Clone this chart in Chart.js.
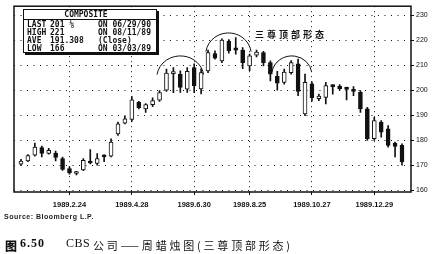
<!DOCTYPE html>
<html>
<head>
<meta charset="utf-8">
<script src="https://cdn.jsdelivr.net/npm/chart.js@4.4.0/dist/chart.umd.min.js"></script>
<style>
  html, body { margin: 0; padding: 0; background: #fff; }
  #wrap { position: relative; width: 439px; height: 254px; overflow: hidden; }
  #wrap canvas { position: absolute; left: 0; top: 0; }
  .txt { position: absolute; white-space: nowrap; color: #111; line-height: 1; }
  .source { left: 4px; top: 213px; font: bold 7px "Liberation Sans", Arial, sans-serif; letter-spacing: 0.5px; color: #222; }
  .cap { top: 237px; }
  .cap-fig { left: 5px; font: 900 12px "Noto Sans CJK SC", sans-serif; }
  .cap-num { left: 20px; font: bold 12px "Liberation Serif", serif; letter-spacing: 1px; top: 236px; }
  .cap-co { left: 66px; font: 12px "Liberation Serif", serif; letter-spacing: 0.5px; top: 236px; }
  .cap-rest { left: 93px; font: 11px "Noto Sans CJK SC", sans-serif; letter-spacing: 2.8px; }
</style>
</head>
<body>
<div id="wrap">
  <canvas id="candles" width="439" height="254"></canvas>
  <div class="txt source">Source: Bloomberg L.P.</div>
  <div class="txt cap cap-fig">图</div>
  <div class="txt cap-num txt">6.50</div>
  <div class="txt cap-co txt">CBS</div>
  <div class="txt cap cap-rest">公司——周蜡烛图(三尊顶部形态)</div>
</div>
<script>
// weekly candles, CBS 1989 - Jan 1990
const dates = [
    '1989.1.6', '1989.1.13', '1989.1.20', '1989.1.27', '1989.2.3', '1989.2.10', '1989.2.17', '1989.2.24',
    '1989.3.3', '1989.3.10', '1989.3.17', '1989.3.24', '1989.3.31', '1989.4.7', '1989.4.14', '1989.4.21',
    '1989.4.28', '1989.5.5', '1989.5.12', '1989.5.19', '1989.5.26', '1989.6.2', '1989.6.9', '1989.6.16',
    '1989.6.23', '1989.6.30', '1989.7.7', '1989.7.14', '1989.7.21', '1989.7.28', '1989.8.4', '1989.8.11',
    '1989.8.18', '1989.8.25', '1989.9.1', '1989.9.8', '1989.9.15', '1989.9.22', '1989.9.29', '1989.10.6',
    '1989.10.13', '1989.10.20', '1989.10.27', '1989.11.3', '1989.11.10', '1989.11.17', '1989.11.24', '1989.12.1',
    '1989.12.8', '1989.12.15', '1989.12.22', '1989.12.29', '1990.1.5', '1990.1.12', '1990.1.19', '1990.1.26'
];
const openPrices = [
    170.3, 171.6, 173.9, 177.0, 174.6, 174.8, 172.6, 168.6,
    166.6, 168.0, 171.6, 170.6, 173.9, 173.5, 182.5, 186.8,
    188.3, 195.1, 192.5, 194.2, 196.0, 200.0, 206.6, 206.4,
    200.4, 209.0, 200.5, 207.7, 214.6, 211.7, 219.6, 216.9,
    216.0, 209.7, 214.0, 215.0, 211.0, 205.5, 203.1, 207.0,
    210.5, 190.5, 202.5, 196.6, 197.1, 201.9, 201.6, 200.6,
    200.3, 199.1, 192.5, 180.6, 187.2, 184.5, 178.8, 177.9
];
const highPrices = [
    172.3, 174.2, 178.8, 177.6, 176.7, 175.6, 173.2, 169.3,
    167.5, 172.6, 176.2, 174.6, 174.1, 180.5, 187.2, 189.5,
    197.4, 195.5, 194.6, 196.9, 199.8, 208.4, 209.0, 207.7,
    209.0, 210.5, 208.5, 216.0, 215.7, 220.5, 220.2, 221.0,
    217.0, 214.4, 216.0, 215.5, 211.7, 207.5, 208.4, 211.8,
    212.4, 206.4, 203.3, 198.4, 203.1, 202.1, 202.2, 201.2,
    201.4, 199.8, 193.1, 189.1, 187.8, 185.8, 179.2, 178.5
];
const lowPrices = [
    169.8, 171.3, 173.5, 173.2, 174.3, 171.6, 167.8, 166.3,
    166.0, 167.7, 170.4, 169.9, 171.3, 173.2, 181.9, 186.5,
    187.5, 192.5, 191.1, 193.4, 195.5, 199.5, 199.0, 199.1,
    199.1, 199.0, 198.5, 207.0, 212.4, 211.0, 214.8, 214.4,
    208.6, 207.8, 213.3, 209.7, 203.7, 200.0, 202.4, 206.4,
    197.8, 189.8, 195.6, 195.8, 194.5, 198.4, 200.0, 196.1,
    197.8, 191.1, 179.9, 179.9, 181.2, 177.2, 173.2, 169.9
];
const closePrices = [
    171.6, 173.8, 177.2, 174.6, 175.9, 173.0, 168.2, 166.8,
    167.0, 171.9, 170.8, 172.6, 173.3, 179.2, 186.5, 188.5,
    196.1, 193.0, 194.2, 195.8, 199.0, 206.8, 207.3, 201.1,
    207.5, 201.8, 207.0, 215.0, 212.8, 220.0, 215.8, 216.0,
    211.0, 213.7, 215.2, 211.0, 206.4, 202.8, 207.2, 211.0,
    199.5, 203.1, 197.0, 197.6, 201.8, 201.4, 200.6, 200.3,
    199.5, 192.5, 180.6, 187.8, 183.2, 177.9, 177.5, 171.2
];
const xTickLabels = ['1989.2.24', '1989.4.28', '1989.6.30', '1989.8.25', '1989.10.27', '1989.12.29'];
const yTickValues = [160, 170, 180, 190, 200, 210, 220, 230];

// summary box text
const boxTitle = 'COMPOSITE';
const boxRows = [
    ['LAST', '201 ⅛', 'ON 06/29/90'],
    ['HIGH', '221', 'ON 08/11/89'],
    ['AVE', '191.308', '(Close)'],
    ['LOW', '166', 'ON 03/03/89']
];
const patternLabel = '三尊顶部形态';

// the three rounded tops, in week index / price
const topArcs = [
    { week: 23.0, price: 204.9, halfWeeks: 3.4, rise: 8.8 },
    { week: 29.95, price: 214.1, halfWeeks: 3.3, rise: 8.8 },
    { week: 39.1, price: 206.1, halfWeeks: 2.9, rise: 7.6 }
];

const INK = '#111';
const xTickIndex = xTickLabels.map(l => dates.indexOf(l));

const overlay = {
    id: 'overlay',
    afterDatasetsDraw(chart) {
        const ctx = chart.ctx;
        const xs = chart.scales.x, ys = chart.scales.y;
        ctx.save();

        // rounded tops
        ctx.strokeStyle = INK;
        ctx.lineWidth = 1;
        topArcs.forEach(a => {
            const cx = xs.getPixelForValue(a.week);
            const cy = ys.getPixelForValue(a.price);
            const rx = xs.getPixelForValue(a.week + a.halfWeeks) - cx;
            const ry = cy - ys.getPixelForValue(a.price + a.rise);
            ctx.beginPath();
            ctx.ellipse(cx, cy, rx, ry, 0, Math.PI + 0.15, 2 * Math.PI - 0.15);
            ctx.stroke();
        });

        // pattern label
        ctx.fillStyle = INK;
        ctx.font = 'bold 9px "Noto Sans CJK SC", sans-serif';
        ctx.textBaseline = 'middle';
        ctx.textAlign = 'left';
        Array.from(patternLabel).forEach((ch, i) => {
            ctx.fillText(ch, 255 + i * 12, 35);
        });

        // summary box
        ctx.fillStyle = '#fff';
        ctx.fillRect(23, 9, 134, 44);
        ctx.fillStyle = INK;
        ctx.fillRect(157, 11, 2, 44);
        ctx.fillRect(25, 53, 134, 2);
        ctx.strokeRect(23.5, 9.5, 133, 43);
        ctx.beginPath();
        ctx.moveTo(23, 19.5);
        ctx.lineTo(157, 19.5);
        ctx.stroke();

        ctx.font = 'bold 8px "DejaVu Sans Mono", monospace';
        ctx.textAlign = 'center';
        ctx.fillText(boxTitle, 86, 15);
        ctx.textAlign = 'left';
        const rowY = [25, 33, 40.5, 48.5];
        boxRows.forEach((r, i) => {
            ctx.fillText(r[0], 27, rowY[i]);
            ctx.fillText(r[1], 50, rowY[i]);
            ctx.fillText(r[2], 98, rowY[i]);
        });
        ctx.restore();
    },
    afterDraw(chart) {
        const { left, right, top, bottom } = chart.chartArea;
        const ctx = chart.ctx;
        ctx.save();
        ctx.strokeStyle = INK;
        ctx.lineWidth = 1.5;
        ctx.strokeRect(left, top, right - left, bottom - top);
        ctx.restore();
    }
};

new Chart(document.getElementById('candles'), {
    type: 'bar',
    data: {
        datasets: [
            {
                label: 'range',
                data: dates.map((d, i) => ({ x: i, y: [lowPrices[i], highPrices[i]] })),
                backgroundColor: INK,
                barThickness: 1,
                grouped: false,
                order: 2
            },
            {
                label: 'body',
                data: dates.map((d, i) => ({ x: i, y: [openPrices[i], closePrices[i]] })),
                backgroundColor: dates.map((d, i) => closePrices[i] >= openPrices[i] ? '#fff' : INK),
                borderColor: INK,
                borderWidth: 1,
                borderSkipped: false,
                barThickness: 4,
                minBarLength: 2,
                grouped: false,
                order: 1
            }
        ]
    },
    options: {
        responsive: false,
        animation: false,
        events: [],
        devicePixelRatio: 1,
        layout: { padding: { left: 14, top: 5, right: 0, bottom: 0 } },
        plugins: {
            legend: { display: false },
            tooltip: { enabled: false }
        },
        scales: {
            x: {
                type: 'linear',
                min: -1.01,
                max: 56.3,
                offset: false,
                afterBuildTicks: scale => {
                    scale.ticks = xTickIndex.map(v => ({ value: v }));
                },
                afterFit: scale => { scale.height = 62; },
                grid: {
                    offset: false,
                    color: INK,
                    lineWidth: 1,
                    tickLength: 3,
                    tickBorderDash: []
                },
                border: { display: false, dash: [1, 4] },
                ticks: {
                    autoSkip: false,
                    maxRotation: 0,
                    padding: 5,
                    color: INK,
                    font: { family: '"Liberation Sans", Arial, sans-serif', size: 7.5, weight: 'bold' },
                    callback: v => dates[v]
                }
            },
            y: {
                type: 'linear',
                position: 'right',
                min: 159.2,
                max: 233.6,
                afterBuildTicks: scale => {
                    scale.ticks = yTickValues.map(v => ({ value: v }));
                },
                afterFit: scale => { scale.width = 28; },
                grid: {
                    color: INK,
                    lineWidth: 1,
                    tickLength: 3,
                    tickBorderDash: []
                },
                border: { display: false, dash: [1, 5.5] },
                ticks: {
                    padding: 2,
                    color: INK,
                    font: { family: '"Liberation Sans", Arial, sans-serif', size: 7 }
                }
            }
        }
    },
    plugins: [overlay]
});
</script>
</body>
</html>
